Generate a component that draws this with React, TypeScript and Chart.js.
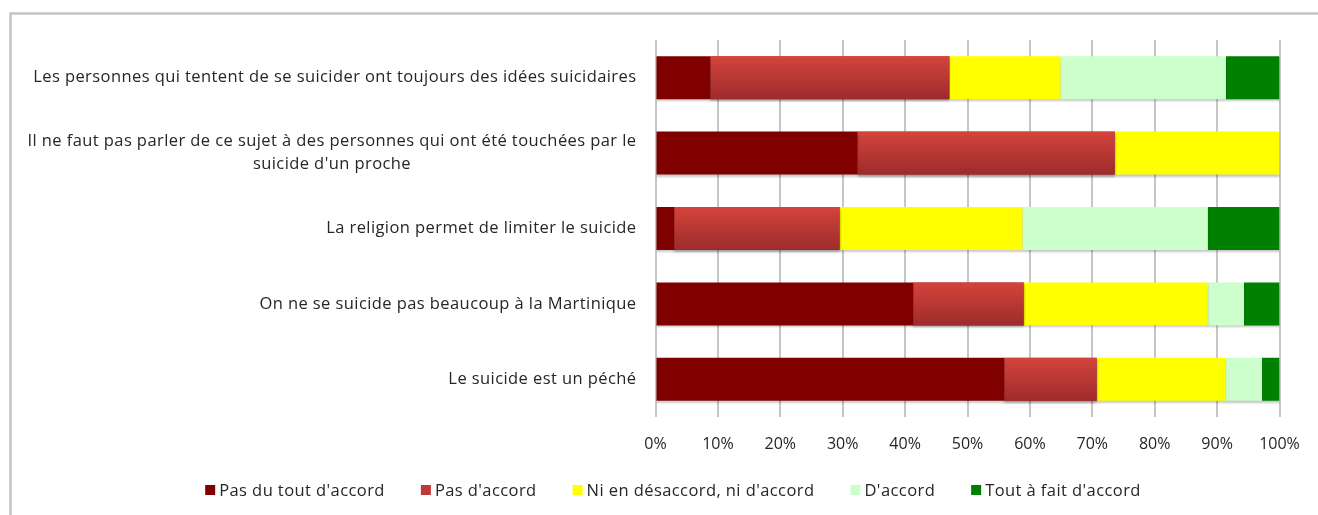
import React, { useEffect, useRef } from "react";
import { Chart, registerables } from "chart.js";

Chart.register(...registerables);

const categories: (string | string[])[] = [
  "Les personnes qui tentent de se suicider ont toujours des idées suicidaires",
  [
    "Il ne faut pas parler de ce sujet à des personnes qui ont été touchées par le",
    "suicide d'un proche",
  ],
  "La religion permet de limiter le suicide",
  "On ne se suicide pas beaucoup à la Martinique",
  "Le suicide est un péché",
];

const seriesNames = [
  "Pas du tout d'accord",
  "Pas d'accord",
  "Ni en désaccord, ni d'accord",
  "D'accord",
  "Tout à fait d'accord",
];

const pasDuToutDaccord = [8.8, 32.4, 3.0, 41.3, 55.9];
const pasDaccord = [38.3, 41.2, 26.5, 17.7, 14.8];
const niNi = [17.8, 26.4, 29.3, 29.5, 20.6];
const daccord = [26.5, 0, 29.7, 5.8, 5.9];
const toutAFait = [8.6, 0, 11.5, 5.7, 2.8];

const xTickValues = [0, 10, 20, 30, 40, 50, 60, 70, 80, 90, 100];

const seriesColors = ["#800000", "#c0393a", "#ffff00", "#ccffcc", "#008000"];

const FONT = "'Open Sans', Lato, sans-serif";
const TEXT_COLOR = "#262626";
const LABEL_SIZE = 16.5;
const LETTER_SPACING = "0.42px";

export default function App() {
  const canvasRef = useRef<HTMLCanvasElement | null>(null);

  useEffect(() => {
    const canvas = canvasRef.current;
    if (!canvas) return;

    const framePlugin = {
      id: "frame",
      beforeDraw(chart: any) {
        const ctx = chart.ctx;
        ctx.save();
        ctx.fillStyle = "#ffffff";
        ctx.fillRect(0, 0, chart.width, chart.height);
        ctx.strokeStyle = "#c3c3c3";
        ctx.lineWidth = 2.5;
        ctx.strokeRect(10.5, 13.5, chart.width + 100, chart.height + 100);
        ctx.restore();
      },
    };

    const shadowPlugin = {
      id: "barShadow",
      beforeDatasetDraw(chart: any) {
        const ctx = chart.ctx;
        ctx.save();
        ctx.shadowColor = "rgba(0,0,0,0.22)";
        ctx.shadowBlur = 2;
        ctx.shadowOffsetY = 2;
      },
      afterDatasetDraw(chart: any, args: any) {
        const ctx = chart.ctx;
        if (args.index === 1) {
          const meta = chart.getDatasetMeta(1);
          meta.data.forEach((el: any) => {
            const p = el.getProps(["x", "y", "base", "height"], true);
            const left = Math.min(p.x, p.base);
            const w = Math.abs(p.x - p.base);
            if (w <= 0.5) return;
            const top = p.y - p.height / 2;
            const g = ctx.createLinearGradient(0, top, 0, top + p.height);
            g.addColorStop(0, "#d4443c");
            g.addColorStop(1, "#9d2b2b");
            ctx.fillStyle = g;
            ctx.fillRect(left, top, w, p.height);
          });
        }
        ctx.restore();
      },
    };

    const labelsPlugin = {
      id: "catLabels",
      afterDraw(chart: any) {
        const ctx = chart.ctx;
        const yScale = chart.scales.y;
        const right = chart.chartArea.left - 19;
        const lineH = 23;
        ctx.save();
        ctx.font = `${LABEL_SIZE}px ${FONT}`;
        (ctx as any).letterSpacing = LETTER_SPACING;
        ctx.fillStyle = TEXT_COLOR;
        ctx.textAlign = "center";
        ctx.textBaseline = "middle";
        categories.forEach((c, i) => {
          const lines = Array.isArray(c) ? c : [c];
          const maxW = Math.max(...lines.map((l) => ctx.measureText(l).width));
          const cx = right - maxW / 2;
          const cy = yScale.getPixelForValue(i);
          lines.forEach((l, j) => {
            ctx.fillText(l, cx, cy + (j - (lines.length - 1) / 2) * lineH);
          });
        });
        ctx.restore();
      },
    };

    const legendPlugin = {
      id: "customLegend",
      afterDraw(chart: any) {
        const ctx = chart.ctx;
        ctx.save();
        ctx.font = `${LABEL_SIZE}px ${FONT}`;
        (ctx as any).letterSpacing = LETTER_SPACING;
        ctx.textBaseline = "middle";
        ctx.textAlign = "left";
        const box = 10;
        const boxGap = 4;
        const itemGap = 36;
        const widths = seriesNames.map((n) => box + boxGap + ctx.measureText(n).width);
        const total = widths.reduce((a, b) => a + b, 0) + itemGap * (seriesNames.length - 1);
        let x = 673 - total / 2;
        const cy = 490;
        seriesNames.forEach((n, i) => {
          ctx.fillStyle = seriesColors[i];
          ctx.fillRect(x, cy - box / 2, box, box);
          ctx.fillStyle = TEXT_COLOR;
          ctx.fillText(n, x + box + boxGap, cy + 1);
          x += widths[i] + itemGap;
        });
        ctx.restore();
      },
    };

    const seriesData = [pasDuToutDaccord, pasDaccord, niNi, daccord, toutAFait];

    const chart = new Chart(canvas, {
      type: "bar",
      data: {
        labels: categories as any,
        datasets: seriesNames.map((name, i) => ({
          label: name,
          data: seriesData[i],
          backgroundColor: seriesColors[i],
          borderWidth: 0,
          categoryPercentage: 1,
          barPercentage: 0.57,
        })),
      },
      options: {
        indexAxis: "y",
        responsive: false,
        animation: false,
        devicePixelRatio: 1,
        layout: { padding: { top: 40, right: 38.5, left: 0, bottom: 0 } },
        plugins: {
          legend: { display: false },
          tooltip: { enabled: false },
          title: { display: false },
        },
        scales: {
          x: {
            stacked: true,
            min: 0,
            max: 100,
            afterBuildTicks(scale: any) {
              scale.ticks = xTickValues.map((v) => ({ value: v }));
            },
            afterFit(scale: any) {
              scale.height = 98;
            },
            grid: {
              color: "#c6c6c6",
              lineWidth: 2,
              drawTicks: false,
            },
            border: { display: false },
            ticks: {
              padding: 18,
              color: TEXT_COLOR,
              font: { family: FONT, size: 16 },
              callback: (v: any) => `${v}%`,
              maxRotation: 0,
            },
          },
          y: {
            stacked: true,
            afterFit(scale: any) {
              scale.width = 655.5;
            },
            grid: { display: false },
            border: { display: false },
            ticks: { display: false },
          },
        },
      },
      plugins: [framePlugin, shadowPlugin, labelsPlugin, legendPlugin],
    } as any);

    return () => chart.destroy();
  }, []);

  return (
    <div style={{ position: "absolute", left: 0, top: 0, width: 1318, height: 515 }}>
      <canvas ref={canvasRef} width={1318} height={515} style={{ display: "block" }} />
    </div>
  );
}
